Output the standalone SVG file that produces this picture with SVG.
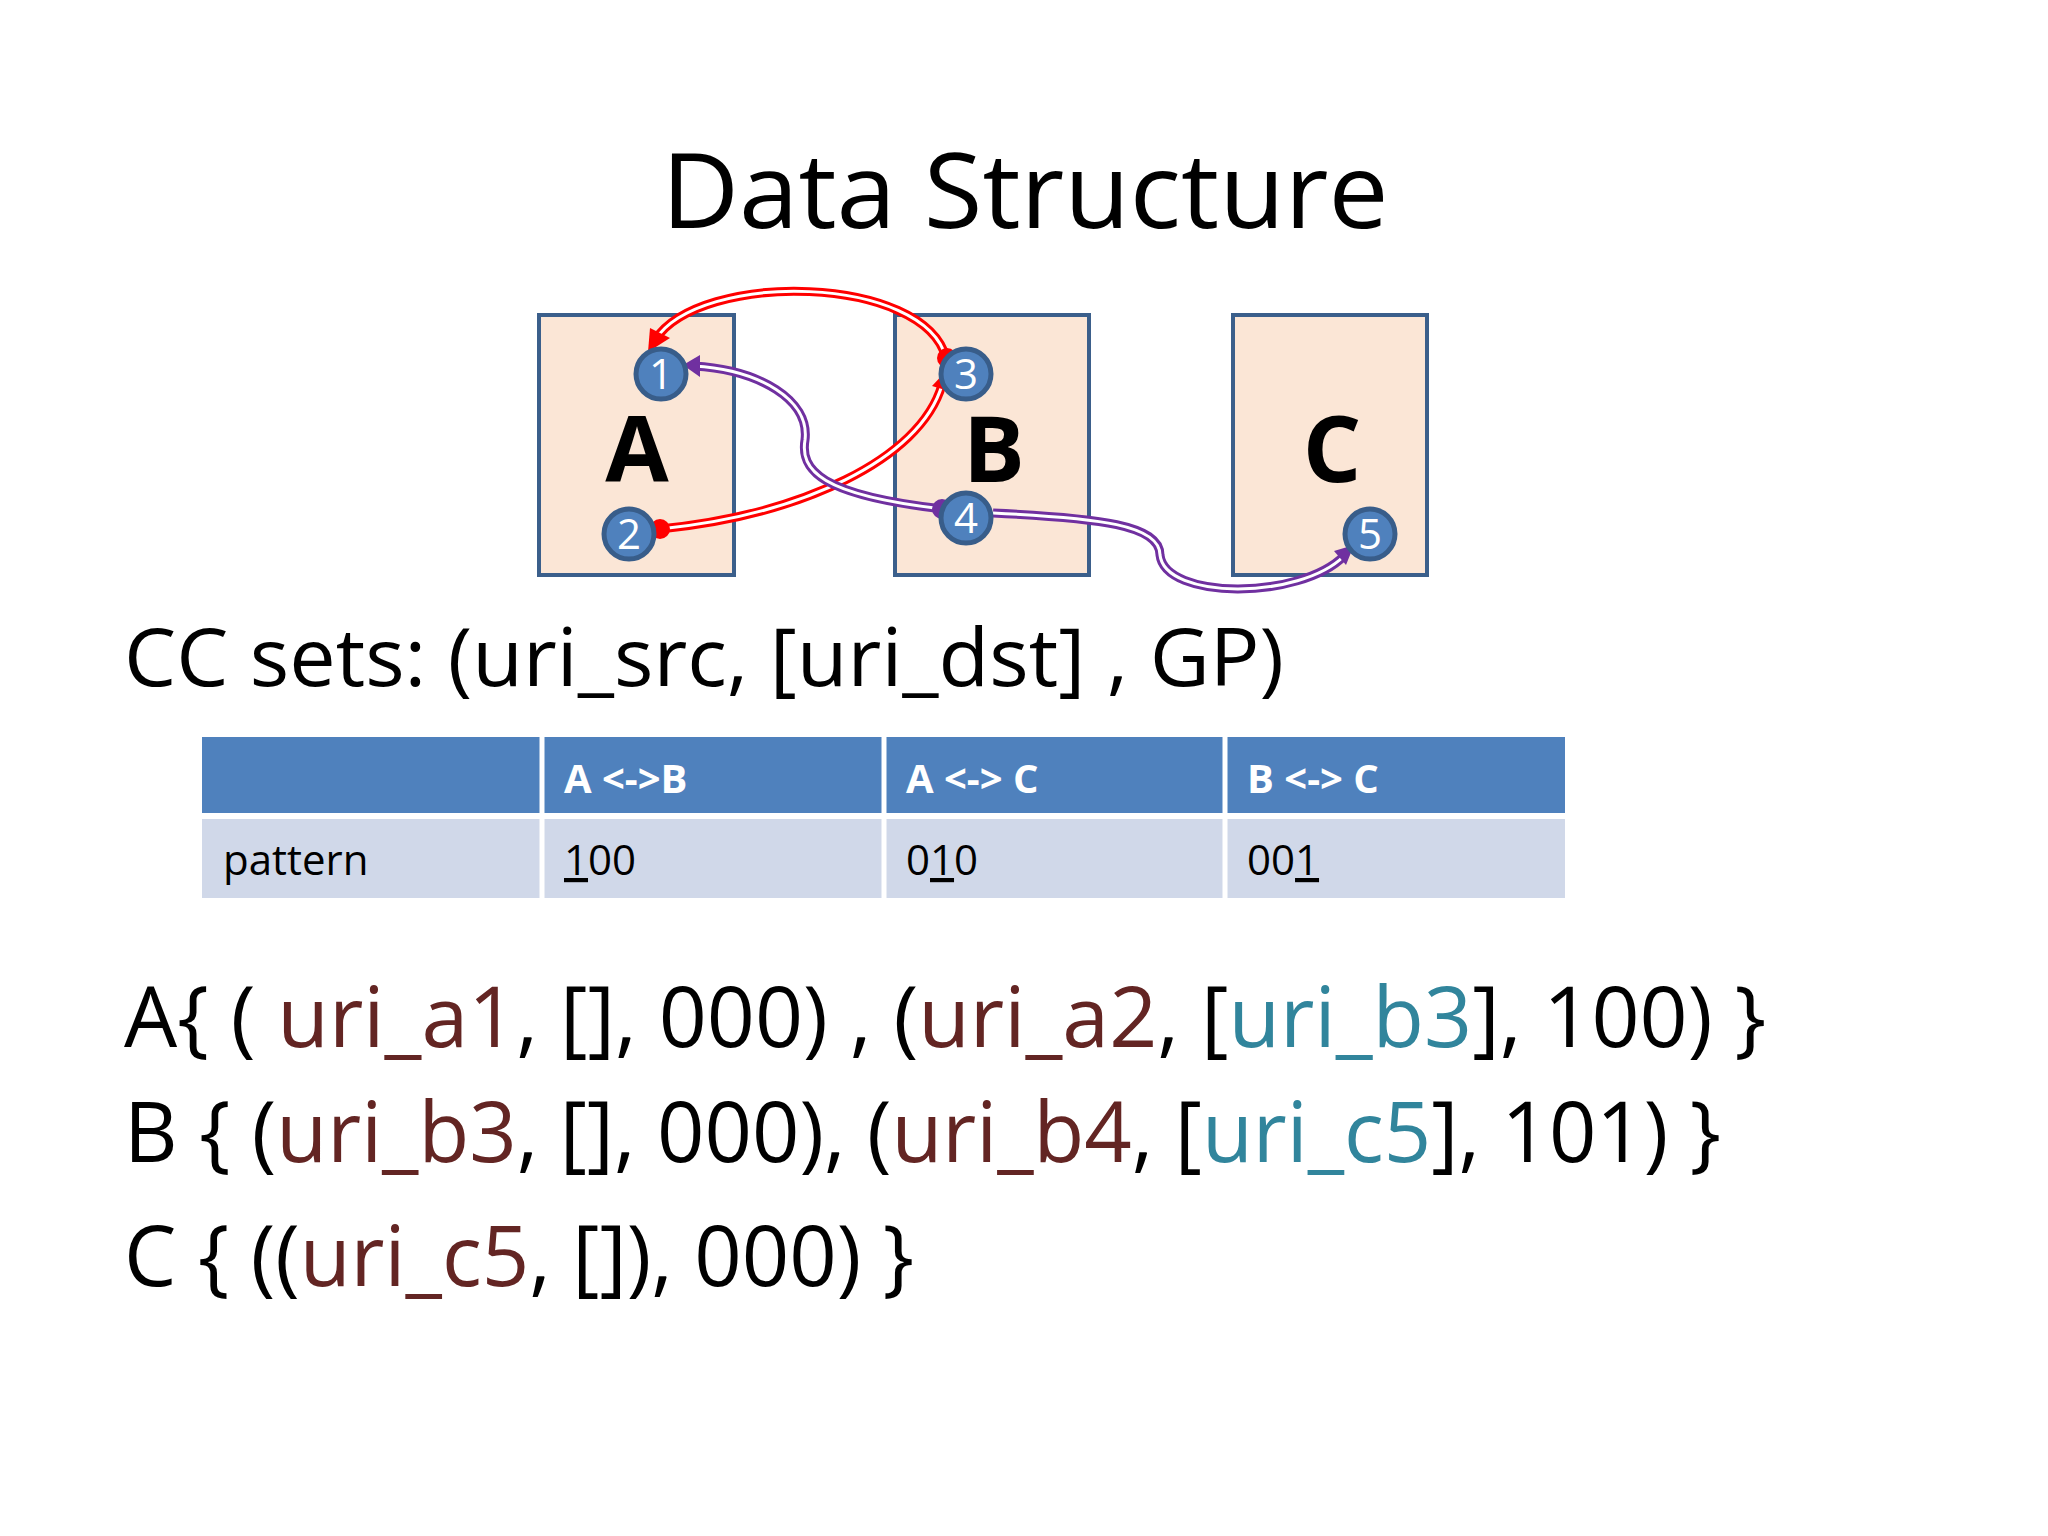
<svg xmlns="http://www.w3.org/2000/svg" width="2048" height="1536" viewBox="0 0 2048 1536">
<defs>
<style>
text{font-family:"Open Sans","Liberation Sans",sans-serif}
.box{fill:#fbe6d6;stroke:#3b5f8b;stroke-width:4}
.big{font-weight:bold;font-size:92px;text-anchor:middle;fill:#000}
.c{fill:#4f81bd;stroke:#385d8a;stroke-width:5}
.n{fill:#fff;font-size:42px;text-anchor:middle}
.r{fill:none;stroke:#ff0000;stroke-width:9}
.p{fill:none;stroke:#7030a0;stroke-width:9}
.w{fill:none;stroke:#fff;stroke-width:3}
.h{fill:#fff;font-weight:bold;font-size:40px}
.t{fill:#000;font-size:42px}
.m{fill:#000;font-size:84px}
.d{fill:#632523}
.g{fill:#31859c}
</style>
</defs>
<rect width="2048" height="1536" fill="#fff"/>
<text x="1025" y="228" text-anchor="middle" font-size="104" textLength="727" lengthAdjust="spacingAndGlyphs">Data Structure</text>
<g id="A"><rect class="box" x="539" y="315" width="195" height="260"/><text class="big" x="637" y="482">A</text></g>
<g id="B"><rect class="box" x="895" y="315" width="194" height="260"/><text class="big" x="994" y="482">B</text></g>
<g id="C"><rect class="box" x="1233" y="315" width="194" height="260"/><text class="big" x="1332" y="482">C</text></g>
<g id="connectors">
<path class="r" d="M946,358 C925,275 700,270 655,340"/><path class="w" d="M946,358 C925,275 700,270 655,340"/>
<path class="r" d="M660,529 C800,515 920,460 942,385"/><path class="w" d="M660,529 C800,515 920,460 942,385"/>
<path class="p" d="M943,509 C820,495 800,470 805,440 C810,400 760,370 694,366"/><path class="w" d="M943,509 C820,495 800,470 805,440 C810,400 760,370 694,366"/>
<path class="p" d="M993,513 C1100,518 1160,525 1160,555 C1165,600 1300,600 1344,556"/><path class="w" d="M993,513 C1100,518 1160,525 1160,555 C1165,600 1300,600 1344,556"/>
<circle cx="947" cy="358" r="10" fill="#ff0000"/><path d="M648,352 L650,328 L670,338 Z" fill="#ff0000"/>
<circle cx="660" cy="529" r="10" fill="#ff0000"/><path d="M947,370 L932,386 L952,392 Z" fill="#ff0000"/>
<circle cx="942" cy="509" r="10" fill="#7030a0"/><path d="M683,365 L700,355 L700,377 Z" fill="#7030a0"/>
<path d="M1354,545 L1334,551 L1346,565 Z" fill="#7030a0"/>
</g>
<g id="n1"><circle class="c" cx="661" cy="374" r="25"/><text class="n" x="661" y="389">1</text></g>
<g id="n2"><circle class="c" cx="629" cy="534" r="25"/><text class="n" x="629" y="549">2</text></g>
<g id="n3"><circle class="c" cx="966" cy="374" r="25"/><text class="n" x="966" y="389">3</text></g>
<g id="n4"><circle class="c" cx="966" cy="518" r="25"/><text class="n" x="966" y="533">4</text></g>
<g id="n5"><circle class="c" cx="1370" cy="534" r="25"/><text class="n" x="1370" y="549">5</text></g>
<text x="124" y="686" font-size="80" textLength="1160" lengthAdjust="spacingAndGlyphs">CC sets:  (uri_src, [uri_dst] , GP)</text>
<g id="table">
<rect x="202" y="737" width="1363" height="76" fill="#4f81bd"/>
<rect x="202" y="819" width="1363" height="79" fill="#d0d8e9"/>
<path d="M542,737V898M884,737V898M1225,737V898M202,816H1565" stroke="#fff" stroke-width="5"/>
<text class="h" x="564" y="793">A &lt;-&gt;B</text>
<text class="h" x="906" y="793">A &lt;-&gt; C</text>
<text class="h" x="1247" y="793">B &lt;-&gt; C</text>
<text class="t" x="223" y="875">pattern</text>
<text class="t" x="564" y="875"><tspan text-decoration="underline">1</tspan>00</text>
<text class="t" x="906" y="875">0<tspan text-decoration="underline">1</tspan>0</text>
<text class="t" x="1247" y="875">00<tspan text-decoration="underline">1</tspan></text>
</g>
<text class="m" x="124" y="1047" textLength="1642" lengthAdjust="spacingAndGlyphs">A{  ( <tspan class="d">uri_a1</tspan>, [], 000) , (<tspan class="d">uri_a2</tspan>, [<tspan class="g">uri_b3</tspan>], 100) }</text>
<text class="m" x="124" y="1162" textLength="1597" lengthAdjust="spacingAndGlyphs">B { (<tspan class="d">uri_b3</tspan>, [], 000), (<tspan class="d">uri_b4</tspan>, [<tspan class="g">uri_c5</tspan>], 101) }</text>
<text class="m" x="124" y="1286" textLength="790" lengthAdjust="spacingAndGlyphs">C { ((<tspan class="d">uri_c5</tspan>, []), 000) }</text>
</svg>
